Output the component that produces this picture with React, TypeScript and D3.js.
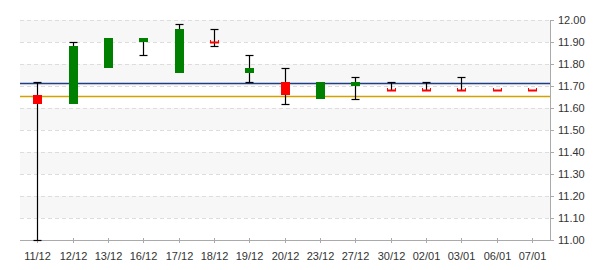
import React from 'react';
import * as d3 from 'd3';

const dates = ['11/12','12/12','13/12','16/12','17/12','18/12','19/12','20/12','23/12','27/12','30/12','02/01','03/01','06/01','07/01'];
const openV = [11.66, 11.62, 11.78, 11.90, 11.76, 11.90, 11.76, 11.72, 11.64, 11.70, 11.68, 11.68, 11.68, 11.68, 11.68];
const closeV = [11.62, 11.88, 11.92, 11.92, 11.96, 11.90, 11.78, 11.66, 11.72, 11.72, 11.68, 11.68, 11.68, 11.68, 11.68];
const highV = [11.72, 11.90, 11.92, 11.92, 11.98, 11.96, 11.84, 11.78, 11.72, 11.74, 11.72, 11.72, 11.74, 11.68, 11.68];
const lowV = [11.00, 11.62, 11.78, 11.84, 11.76, 11.88, 11.72, 11.62, 11.64, 11.64, 11.68, 11.68, 11.68, 11.68, 11.68];
const yTicks = [11.0, 11.1, 11.2, 11.3, 11.4, 11.5, 11.6, 11.7, 11.8, 11.9, 12.0];
const refBlue = 11.712;
const refGold = 11.653;

const W = 600, H = 270;
const L = 20, R = 550, T = 20, B = 240;

export default function App() {
  const x = d3.scaleBand<string>().domain(dates).range([L, R]).padding(0);
  const y = d3.scaleLinear().domain([11, 12]).range([B, T]);
  const cxOf = (d: string) => Math.floor((x(d) as number) + x.bandwidth() / 2) + 0.5;
  const font = "'Liberation Sans', Arial, sans-serif";
  const bands = yTicks.slice(0, -1).map((v, i) => ({ lo: v, hi: yTicks[i + 1], i }));
  return (
    <svg width={W} height={H} style={{ position: 'fixed', left: 0, top: 0, background: '#fff' }}>
      <rect x={0} y={0} width={W} height={H} fill="#fff" />
      {bands.filter(b => (yTicks.length - 2 - b.i) % 2 === 0).map(b => (
        <rect key={'b' + b.i} x={L} y={y(b.hi)} width={R - L} height={y(b.lo) - y(b.hi)} fill="#f7f7f7" />
      ))}
      {yTicks.slice(1).map(v => (
        <line key={'g' + v} x1={L} x2={R} y1={Math.round(y(v)) + 0.5} y2={Math.round(y(v)) + 0.5}
          stroke="#dddddd" strokeWidth={1} strokeDasharray="4,3" />
      ))}
      <line x1={L} x2={R} y1={Math.round(y(refBlue)) + 0.5} y2={Math.round(y(refBlue)) + 0.5} stroke="#1c3f85" strokeWidth={1.3} />
      <line x1={L} x2={R} y1={Math.round(y(refGold)) + 0.5} y2={Math.round(y(refGold)) + 0.5} stroke="#d4a200" strokeWidth={1.3} />
      {/* axes */}
      <line x1={L} x2={R} y1={B + 0.5} y2={B + 0.5} stroke="#aaaaaa" />
      {dates.map(d => (
        <line key={'xt' + d} x1={cxOf(d)} x2={cxOf(d)} y1={B - 2} y2={B + 3} stroke="#aaaaaa" />
      ))}
      <line x1={R + 0.5} x2={R + 0.5} y1={T} y2={B + 1} stroke="#aaaaaa" />
      {yTicks.map(v => (
        <line key={'yt' + v} x1={R} x2={R + 4} y1={Math.round(y(v)) + 0.5} y2={Math.round(y(v)) + 0.5} stroke="#aaaaaa" />
      ))}
      {yTicks.map(v => (
        <text key={'yl' + v} x={R + 8} y={y(v)} dy="0.35em" fontFamily={font} fontSize={11} fill="#333">{v.toFixed(2)}</text>
      ))}
      {dates.map(d => (
        <text key={'xl' + d} x={cxOf(d)} y={260} textAnchor="middle" fontFamily={font} fontSize={11} fill="#333">{d}</text>
      ))}
      {/* candles */}
      {dates.map((d, i) => {
        const cx = cxOf(d);
        const yh = Math.round(y(highV[i])) + 0.5;
        const yl = Math.round(y(lowV[i])) + 0.5;
        const up = closeV[i] > openV[i];
        const flat = Math.abs(closeV[i] - openV[i]) < 1e-9;
        const bodyHi = Math.max(openV[i], closeV[i]);
        const bodyLo = Math.min(openV[i], closeV[i]);
        const top = Math.round(y(bodyHi));
        const bot = Math.round(y(bodyLo));
        const col = up ? '#008000' : '#ff0000';
        const hasHigh = highV[i] - bodyHi > 1e-9;
        const hasLow = bodyLo - lowV[i] > 1e-9;
        return (
          <g key={'c' + d}>
            {hasHigh && <line x1={cx} x2={cx} y1={yh} y2={top} stroke="#000" strokeWidth={1.2} />}
            {hasLow && <line x1={cx} x2={cx} y1={bot} y2={yl} stroke="#000" strokeWidth={1.2} />}
            {hasHigh && <line x1={cx - 4} x2={cx + 4} y1={yh} y2={yh} stroke="#000" strokeWidth={1.2} />}
            {hasLow && <line x1={cx - 4} x2={cx + 4} y1={yl} y2={yl} stroke="#000" strokeWidth={1.2} />}
            {flat ? (
              <g>
                <rect x={cx - 4.5} y={top - 0.5} width={9} height={2} fill={col} />
                <rect x={cx - 4.5} y={top - 2} width={1} height={2} fill={col} />
                <rect x={cx + 3.5} y={top - 2} width={1} height={2} fill={col} />
              </g>
            ) : (
              <rect x={cx - 4.5} y={top} width={9} height={bot - top} fill={col} />
            )}
          </g>
        );
      })}
    </svg>
  );
}
